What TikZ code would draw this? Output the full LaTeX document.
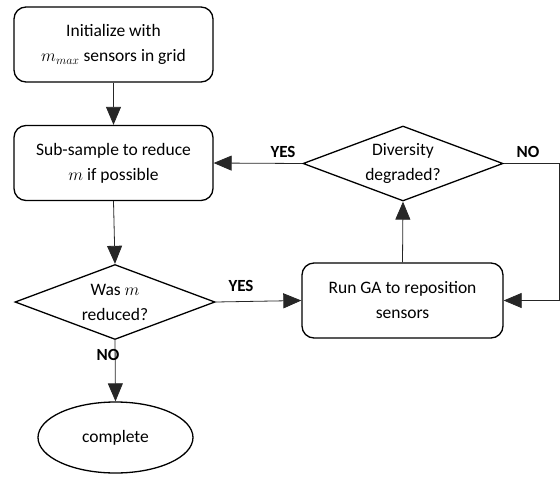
\documentclass[tikz,border=0pt]{standalone}
\usepackage{fontspec}
\setmainfont{Carlito}
\usetikzlibrary{shapes.geometric,arrows.meta}
\tikzset{
  base/.style={draw=black, line width=1.3pt, align=center, inner sep=0pt, font=\fontsize{17.5}{25}\selectfont},
  procbox/.style={base, rounded corners=12pt, minimum width=199pt, minimum height=75pt},
  decision/.style={base, diamond, aspect=2.7, minimum width=200pt, minimum height=75pt},
  terminal/.style={base, ellipse, minimum width=155pt, minimum height=71pt},
  conn/.style={draw=black!85, line width=0.8pt, -{Triangle[width=15pt,length=18pt]}},
  lbl/.style={font=\fontsize{17}{20}\selectfont\bfseries, inner sep=0pt}
}
\begin{document}
\begin{tikzpicture}[x=1pt,y=-1pt]
\useasboundingbox (0,0) rectangle (560,477);
\node[procbox] (init) at (113.5,44.5) {Initialize with\\$m_{max}$ sensors in grid};
\node[procbox] (sub) at (113.5,163) {Sub-sample to reduce\\$m$ if possible};
\node[decision] (dec1) at (115,302) {Was $m$\\reduced?};
\node[terminal] (comp) at (115.5,437.5) {complete};
\node[procbox, minimum width=201pt] (run) at (402.5,300.5) {Run GA to reposition\\sensors};
\node[decision] (dec2) at (403,163.5) {Diversity\\degraded?};
\coordinate (nocorner) at (559,163.5);

\draw[conn] (init.south) -- (sub.north);
\draw[conn] (sub.south) -- (dec1.north);
\draw[conn] (dec1.east) -- (run.west);
\draw[conn] (dec1.south) -- (comp.north);
\draw[conn] (run.north) -- (dec2.south);
\draw[conn] (dec2.west) -- (sub.east);
\draw[conn] (dec2.east) -- (nocorner) |- (run.east);

\node[lbl] (yes1) at (241,286) {YES};
\node[lbl] (no1) at (108,355) {NO};
\node[lbl] (yes2) at (283,152) {YES};
\node[lbl] (no2) at (528,152) {NO};
\end{tikzpicture}
\end{document}
